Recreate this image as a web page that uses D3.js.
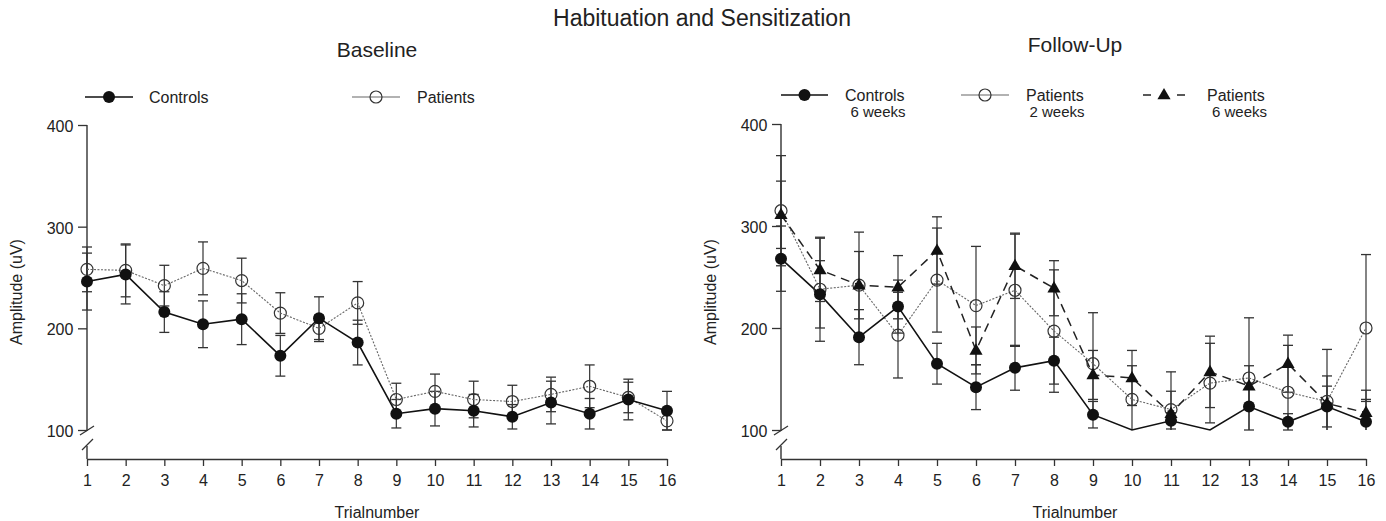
<!DOCTYPE html>
<html>
<head>
<meta charset="utf-8">
<script src="https://cdn.jsdelivr.net/npm/d3@7"></script>
<style>
  body { margin: 0; background: #fff; }
  svg { display: block; font-family: "Liberation Sans", Arial, sans-serif; }
</style>
</head>
<body>
<div id="chart"></div>
<script>
// trial numbers on the x axis
const trials = d3.range(1, 17);
const yTicks = [100, 200, 300, 400];

// Baseline panel (mean, sd)
const baseControls = [246, 253, 216, 204, 209, 173, 210, 186, 116, 121, 119, 113, 127, 116, 130, 119];
const baseControlsErr = [28, 29, 20, 23, 25, 20, 21, 22, 14, 17, 16, 12, 21, 15, 20, 19];
const basePatients = [258, 257, 242, 259, 247, 215, 200, 225, 130, 138, 130, 128, 135, 143, 132, 109];
const basePatientsErr = [22, 26, 20, 26, 22, 20, 13, 21, 16, 17, 18, 16, 17, 21, 15, 9];

// Follow-up panel
const fuControls = [268, 233, 191, 221, 165, 142, 161, 168, 115, 98, 109, 98, 123, 108, 123, 108];
const fuControlsErr = [32, 33, 27, 26, 20, 22, 22, 23, 13, 0, 8, 0, 23, 8, 20, 22];
const fuPatients2w = [315, 238, 242, 193, 247, 222, 237, 197, 165, 130, 120, 146, 151, 137, 128, 200];
const fuPatients2wErr = [54, 51, 52, 42, 51, 58, 55, 60, 50, 33, 37, 39, 59, 46, 51, 72];
const fuPatients6w = [311, 257, 242, 240, 276, 178, 261, 239, 154, 151, 116, 157, 143, 165, 126, 117];
const fuPatients6wErr = [33, 31, 33, 31, 33, 23, 32, 27, 24, 27, 22, 35, 20, 28, 27, 22];

const W = 1386, H = 521;
const svg = d3.select("#chart").append("svg")
  .attr("width", W).attr("height", H);

svg.append("text")
  .attr("x", 702).attr("y", 26)
  .attr("text-anchor", "middle")
  .style("font-size", "23px").attr("fill", "#222")
  .text("Habituation and Sensitization");

const styles = {
  controls: { stroke: "#111", width: 1.6, dash: null, marker: "filled" },
  patients: { stroke: "#666", width: 1.1, dash: "2,1.5", marker: "open" },
  patients6: { stroke: "#222", width: 1.5, dash: "9,6", marker: "triangle" }
};

function drawMarker(g, kind, cx, cy) {
  if (kind == "filled") {
    g.append("circle").attr("cx", cx).attr("cy", cy).attr("r", 6)
      .attr("fill", "#111");
  } else if (kind == "open") {
    g.append("circle").attr("cx", cx).attr("cy", cy).attr("r", 6)
      .attr("fill", "none").attr("stroke", "#333").attr("stroke-width", 1.2);
  } else {
    g.append("path")
      .attr("d", d3.symbol().type(d3.symbolTriangle).size(75)())
      .attr("transform", "translate(" + cx + "," + (cy + 0.5) + ")")
      .attr("fill", "#111");
  }
}

function panel(opt) {
  var x = d3.scaleLinear().domain([1, 16]).range([opt.x0, opt.x1]);
  var y = d3.scaleLinear().domain([100, 400]).range([430, opt.yTop]).clamp(true);
  var axisY = 459;
  var g = svg.append("g");

  g.append("text")
    .attr("x", opt.titleX).attr("y", opt.titleY)
    .attr("text-anchor", "middle")
    .style("font-size", "21px").attr("fill", "#222")
    .text(opt.title);

  // x axis
  var xa = g.append("g")
    .attr("transform", "translate(0," + axisY + ")")
    .call(d3.axisBottom(x).tickValues(trials).tickSize(7).tickSizeOuter(0));
  xa.select(".domain").attr("stroke", "#333").attr("stroke-width", 1.5);
  xa.selectAll(".tick line").attr("stroke", "#333").attr("stroke-width", 1.3);
  xa.selectAll(".tick text").attr("dy", "1.05em")
    .style("font-size", "16px").style("font-family", "Liberation Sans, Arial, sans-serif")
    .attr("fill", "#222");

  // y axis, with a break below 100
  var ya = g.append("g")
    .attr("transform", "translate(" + opt.x0 + ",0)")
    .call(d3.axisLeft(y).tickValues(yTicks).tickSize(9).tickSizeOuter(0));
  ya.select(".domain").remove();
  ya.selectAll(".tick line").attr("stroke", "#333").attr("stroke-width", 1.3);
  ya.selectAll(".tick text").attr("dx", "-0.1em").attr("dy", "0.4em")
    .style("font-size", "16px").style("font-family", "Liberation Sans, Arial, sans-serif")
    .attr("fill", "#222");

  var y100 = y(100);
  g.append("line").attr("x1", opt.x0).attr("x2", opt.x0)
    .attr("y1", y(400)).attr("y2", y100 + 1)
    .attr("stroke", "#333").attr("stroke-width", 1.4);
  g.append("line").attr("x1", opt.x0 - 7).attr("x2", opt.x0 + 7)
    .attr("y1", y100 + 5).attr("y2", y100 - 4)
    .attr("stroke", "#333").attr("stroke-width", 1.3);
  g.append("line").attr("x1", opt.x0 - 5).attr("x2", opt.x0 + 6)
    .attr("y1", y100 + 20).attr("y2", y100 + 9)
    .attr("stroke", "#333").attr("stroke-width", 1.3);
  g.append("line").attr("x1", opt.x0).attr("x2", opt.x0)
    .attr("y1", y100 + 16).attr("y2", axisY)
    .attr("stroke", "#333").attr("stroke-width", 1.4);

  g.append("text")
    .attr("transform", "translate(" + opt.labelX + ",292) rotate(-90)")
    .attr("text-anchor", "middle")
    .style("font-size", "16px").attr("fill", "#222")
    .text("Amplitude (uV)");

  g.append("text")
    .attr("x", opt.titleX).attr("y", 518)
    .attr("text-anchor", "middle")
    .style("font-size", "16px").attr("fill", "#222")
    .text("Trialnumber");

  var line = d3.line()
    .x(function(d, i) { return x(trials[i]); })
    .y(function(d) { return y(d); });

  // error bars first, then lines, then markers
  opt.series.forEach(function(s) {
    s.values.forEach(function(v, i) {
      var e = s.err[i];
      if (!e) return;
      var cx = x(trials[i]);
      var top = v + e, bot = v - e;
      g.append("line").attr("x1", cx).attr("x2", cx)
        .attr("y1", y(top)).attr("y2", y(bot))
        .attr("stroke", "#333").attr("stroke-width", 1.2);
      [top, bot].forEach(function(t) {
        if (t < 100) return;
        g.append("line").attr("x1", cx - 5).attr("x2", cx + 5)
          .attr("y1", y(t)).attr("y2", y(t))
          .attr("stroke", "#333").attr("stroke-width", 1.3);
      });
    });
  });

  opt.series.forEach(function(s) {
    var st = styles[s.style];
    g.append("path")
      .datum(s.values)
      .attr("d", line)
      .attr("fill", "none")
      .attr("stroke", st.stroke)
      .attr("stroke-width", st.width)
      .attr("stroke-dasharray", st.dash);
  });

  opt.series.forEach(function(s) {
    var st = styles[s.style];
    s.values.forEach(function(v, i) {
      if (v < 100) return;
      drawMarker(g, st.marker, x(trials[i]), y(v));
    });
  });
}

panel({
  title: "Baseline", titleX: 377, titleY: 57,
  x0: 87, x1: 667, yTop: 125, labelX: 22,
  series: [
    { values: basePatients, err: basePatientsErr, style: "patients" },
    { values: baseControls, err: baseControlsErr, style: "controls" }
  ]
});

panel({
  title: "Follow-Up", titleX: 1075, titleY: 52,
  x0: 781, x1: 1366, yTop: 124, labelX: 716,
  series: [
    { values: fuPatients2w, err: fuPatients2wErr, style: "patients" },
    { values: fuPatients6w, err: fuPatients6wErr, style: "patients6" },
    { values: fuControls, err: fuControlsErr, style: "controls" }
  ]
});

// legends
function legendItem(x1, x2, ly, kind, lines, tx) {
  var st = styles[kind];
  var g = svg.append("g");
  if (kind == "patients6") {
    g.append("line").attr("x1", x1).attr("x2", x1 + 8).attr("y1", ly).attr("y2", ly)
      .attr("stroke", st.stroke).attr("stroke-width", st.width);
    g.append("line").attr("x1", x2 - 8).attr("x2", x2).attr("y1", ly).attr("y2", ly)
      .attr("stroke", st.stroke).attr("stroke-width", st.width);
  } else {
    g.append("line").attr("x1", x1).attr("x2", x2).attr("y1", ly).attr("y2", ly)
      .attr("stroke", st.stroke).attr("stroke-width", st.width);
  }
  drawMarker(g, st.marker, (x1 + x2) / 2, ly);
  lines.forEach(function(t, i) {
    g.append("text")
      .attr("x", t.x != null ? t.x : tx).attr("y", ly + 6 + i * 16)
      .attr("text-anchor", t.anchor || "start")
      .style("font-size", i == 0 ? "16px" : "15px").attr("fill", "#222")
      .text(t.text);
  });
}

legendItem(85, 133, 97, "controls", [{ text: "Controls" }], 149);
legendItem(352, 400, 97, "patients", [{ text: "Patients" }], 417);

legendItem(781, 828, 95, "controls",
  [{ text: "Controls" }, { text: "6 weeks", x: 878, anchor: "middle" }], 845);
legendItem(961, 1009, 95, "patients",
  [{ text: "Patients" }, { text: "2 weeks", x: 1057, anchor: "middle" }], 1026);
legendItem(1143, 1185, 95, "patients6",
  [{ text: "Patients" }, { text: "6 weeks", x: 1267, anchor: "end" }], 1207);
</script>
</body>
</html>
